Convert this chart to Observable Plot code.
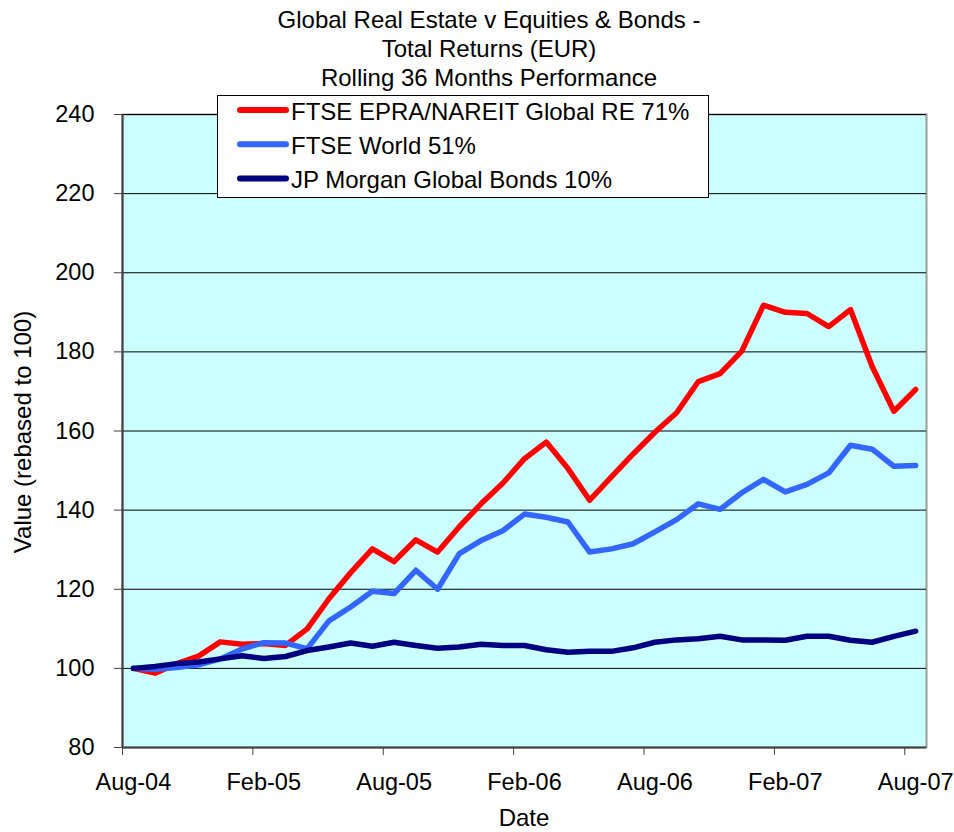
<!DOCTYPE html>
<html><head><meta charset="utf-8">
<script src="https://cdn.jsdelivr.net/npm/d3@7"></script>
<script src="https://cdn.jsdelivr.net/npm/@observablehq/plot@0.6"></script>
<style>body{margin:0;background:#fff;} svg{display:block;}</style>
</head><body><div id="chart"></div>
<script>
const months = ["Aug-04","Sep-04","Oct-04","Nov-04","Dec-04","Jan-05","Feb-05","Mar-05","Apr-05","May-05","Jun-05","Jul-05",
  "Aug-05","Sep-05","Oct-05","Nov-05","Dec-05","Jan-06","Feb-06","Mar-06","Apr-06","May-06","Jun-06","Jul-06",
  "Aug-06","Sep-06","Oct-06","Nov-06","Dec-06","Jan-07","Feb-07","Mar-07","Apr-07","May-07","Jun-07","Jul-07","Aug-07"];
const tickLabels = ["Aug-04","Feb-05","Aug-05","Feb-06","Aug-06","Feb-07","Aug-07"];
const seriesNames = ["FTSE EPRA/NAREIT Global RE 71%","FTSE World 51%","JP Morgan Global Bonds 10%"];
const seriesColors = ["#ff0000","#3366ff","#000080"];
const realEstate = [100,98.8,101.2,103.1,106.7,106.1,106.3,105.8,110.0,117.6,124.2,130.2,127.0,132.5,129.4,135.8,141.6,146.8,153.0,157.2,150.5,142.5,148.4,154.2,159.7,164.6,172.5,174.5,180.2,191.8,190.0,189.7,186.4,190.7,176.3,165.0,170.5];
const world = [100,99.8,100.2,100.9,102.4,104.9,106.5,106.4,105.0,112.0,115.5,119.5,118.9,124.8,120.0,129.0,132.3,134.8,139.0,138.2,137.0,129.4,130.2,131.5,134.5,137.6,141.6,140.2,144.4,147.8,144.6,146.5,149.4,156.4,155.4,151.1,151.3];
const bonds = [100,100.5,101.2,101.6,102.4,103.2,102.5,103.0,104.5,105.4,106.4,105.6,106.6,105.8,105.1,105.4,106.1,105.8,105.8,104.7,104.1,104.3,104.3,105.2,106.6,107.2,107.5,108.1,107.2,107.2,107.1,108.1,108.1,107.1,106.6,108.1,109.4];
const yTicks = [80,100,120,140,160,180,200,220,240];
const titleLines = ["Global Real Estate v Equities & Bonds -","Total Returns (EUR)","Rolling 36 Months Performance"];
const xTitle = "Date";
const yTitle = "Value (rebased to 100)";

const seriesValues = [realEstate, world, bonds];
const data = [];
seriesValues.forEach((vals, k) => vals.forEach((v, i) => data.push({i, month: months[i], v, s: seriesNames[k]})));
const labelPos = tickLabels.map(l => months.indexOf(l));
const tickPos = labelPos.map(p => p - 0.5);

const FONT = "'Liberation Sans', Arial, sans-serif";
const chart = Plot.plot({
  width: 954, height: 832,
  marginLeft: 122, marginRight: 28, marginTop: 114, marginBottom: 85,
  style: {fontFamily: FONT, fontSize: "23.5px", color: "#000", background: "#fff", overflow: "visible"},
  x: {type: "linear", domain: [-0.5, months.length - 0.5]},
  y: {domain: [80, 240]},
  color: {domain: seriesNames, range: seriesColors},
  marks: [
    Plot.frame({fill: "#ccffff", stroke: "#9a9a9a", strokeWidth: 2}),
    Plot.gridY(yTicks, {stroke: "#000", strokeOpacity: 1, strokeWidth: 1}),
    Plot.ruleX([-0.5], {stroke: "#404040", strokeWidth: 2}),
    Plot.ruleY([80], {stroke: "#404040", strokeWidth: 2}),
    Plot.axisY(yTicks, {tickSize: 8, tickPadding: 20, stroke: "#404040", label: null}),
    Plot.axisX(tickPos, {tickSize: 8, stroke: "#404040", tickFormat: () => "", label: null}),
    Plot.axisX(labelPos, {tickSize: 0, tickPadding: 26, tickFormat: d => months[d], label: null}),
    Plot.line(data, {x: "i", y: "v", z: "s", stroke: "s", strokeWidth: 5.5, strokeLinejoin: "round", strokeLinecap: "round"})
  ]
});
document.getElementById("chart").appendChild(chart);

const svg = d3.select(chart);
const title = svg.append("g").attr("font-family", FONT).attr("font-size", 24).attr("text-anchor", "middle").attr("fill", "#000");
titleLines.forEach((t, k) => title.append("text").attr("x", 489).attr("y", 28 + 29 * k).text(t));

svg.append("text").attr("font-family", FONT).attr("font-size", 24).attr("text-anchor", "middle")
  .attr("x", 524).attr("y", 826).text(xTitle);
svg.append("text").attr("font-family", FONT).attr("font-size", 24).attr("text-anchor", "middle")
  .attr("transform", "translate(31,432) rotate(-90)").text(yTitle);

const lg = svg.append("g").attr("font-family", FONT).attr("font-size", 24).attr("text-anchor", "start");
lg.append("rect").attr("x", 217.5).attr("y", 95.5).attr("width", 491).attr("height", 102)
  .attr("fill", "#fff").attr("stroke", "#000").attr("stroke-width", 1);
seriesNames.forEach((n, k) => {
  const y = 110 + 34.2 * k;
  lg.append("line").attr("x1", 240).attr("x2", 286).attr("y1", y).attr("y2", y)
    .attr("stroke", seriesColors[k]).attr("stroke-width", 6).attr("stroke-linecap", "round");
  lg.append("text").attr("x", 291).attr("y", 120 + 34.2 * k).attr("text-anchor", "start").text(n);
});
</script>
</body></html>
